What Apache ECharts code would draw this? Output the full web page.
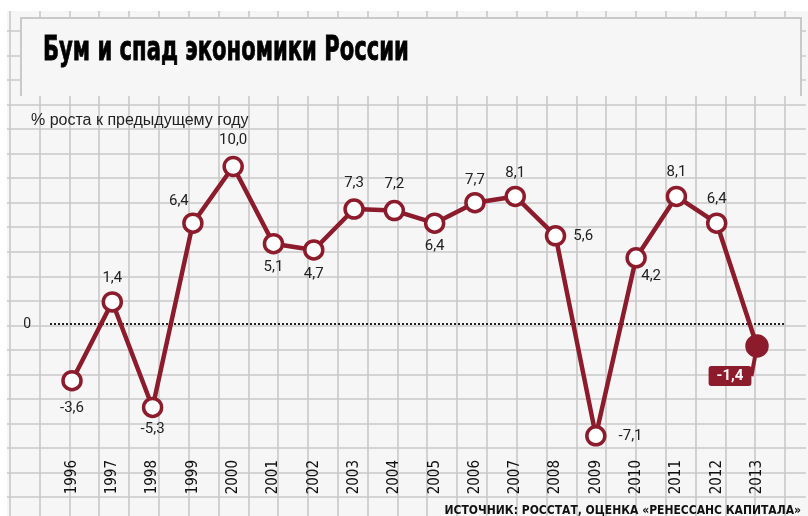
<!DOCTYPE html>
<html lang="ru">
<head>
  <meta charset="UTF-8">
  <script src="https://cdn.jsdelivr.net/npm/echarts@6/dist/echarts.min.js"></script>
  <title>Бум и спад экономики России</title>
  <style>
    html, body { margin: 0; padding: 0; background: #fff; }
    #chart { width: 808px; height: 516px; }
  </style>
</head>
<body>
  <div id="chart"></div>
  <script>
    // данные с картинки
    const years = ['1996', '1997', '1998', '1999', '2000', '2001', '2002', '2003', '2004',
                   '2005', '2006', '2007', '2008', '2009', '2010', '2011', '2012', '2013'];
    const growth = [-3.6, 1.4, -5.3, 6.4, 10.0, 5.1, 4.7, 7.3, 7.2,
                    6.4, 7.7, 8.1, 5.6, -7.1, 4.2, 8.1, 6.4, -1.4];

    const titleText = 'Бум и спад экономики России';
    const subtitleText = '% роста к предыдущему году';
    const sourceText = 'ИСТОЧНИК: РОССТАТ, ОЦЕНКА «РЕНЕССАНС КАПИТАЛА»';

    const RED = '#8c1b2c';
    const PAPER = '#f6f6f6';
    const GRIDLINE = '#c9c9c9';
    const NARROW = "'Liberation Sans Narrow', 'DejaVu Sans Condensed', sans-serif";

    // где стоит подпись у каждой точки
    const labelPlace = {
      0: { position: 'bottom', distance: 9 },
      1: { position: 'top', distance: 5 },
      2: { position: 'bottom', distance: 4 },
      3: { position: 'top', distance: 4, offset: [-14, 0] },
      4: { position: 'top', distance: 8 },
      5: { position: 'bottom', distance: 5 },
      6: { position: 'bottom', distance: 6 },
      7: { position: 'top', distance: 8 },
      8: { position: 'top', distance: 8 },
      9: { position: 'bottom', distance: 5 },
      10: { position: 'top', distance: 4 },
      11: { position: 'top', distance: 5 },
      12: { position: 'right', distance: 7 },
      13: { position: 'right', distance: 12 },
      14: { position: 'bottom', distance: 5, offset: [15, -5] },
      15: { position: 'top', distance: 6 },
      16: { position: 'top', distance: 6 }
    };

    const fmt = v => String(v.toFixed(1)).replace('.', ',');

    const seriesData = growth.map((v, i) => {
      if (i === growth.length - 1) {
        return {
          value: v,
          symbol: 'circle',
          symbolSize: 20,
          itemStyle: { color: RED, borderColor: RED },
          label: {
            show: true,
            position: 'inside',
            offset: [-27, 30],
            formatter: p => fmt(p.value),
            color: '#fff',
            fontWeight: 'bold',
            fontSize: 15,
            fontFamily: 'Roboto, sans-serif',
            backgroundColor: RED,
            padding: [3, 8, 2, 8],
            borderRadius: 3
          },
          labelLine: { show: true, length2: 0, lineStyle: { color: RED, width: 4 } }
        };
      }
      return { value: v, label: Object.assign({ show: true }, labelPlace[i]) };
    });

    const chart = echarts.init(document.getElementById('chart'), null, { renderer: 'canvas' });

    const hidden = { show: false };

    const option = {
      animation: false,
      backgroundColor: '#fff',
      title: [
        {
          text: subtitleText,
          left: 26, top: 108,
          textStyle: { fontFamily: "'Liberation Sans', Arial, sans-serif", fontWeight: 'normal', fontSize: 16, color: '#222' }
        },
        {
          text: sourceText,
          right: 2, top: 500,
          textStyle: { fontFamily: NARROW, fontWeight: 'bold', fontSize: 12, color: '#111' }
        }
      ],
      graphic: [
        { type: 'rect', z: -10, shape: { x: 7, y: 11, width: 801, height: 505 }, style: { fill: PAPER } },
        { type: 'rect', z: 1, shape: { x: 21, y: 18, width: 780, height: 78 }, style: { fill: PAPER } },
        {
          type: 'polyline', z: 1,
          shape: { points: [[21, 96], [21, 18], [801, 18], [801, 96]] },
          style: { stroke: GRIDLINE, lineWidth: 2, fill: null }
        },
        {
          // заголовок, сжатый по ширине как в оригинале
          type: 'text', z: 10,
          x: 43, y: 51, scaleX: 0.69,
          style: {
            text: titleText,
            font: "bold 34px 'DejaVu Sans Condensed', sans-serif",
            fill: '#000',
            stroke: '#000',
            lineWidth: 0.8,
            verticalAlign: 'middle'
          }
        }
      ],
      grid: [
        // клетки по вертикали
        { left: 9.7, top: 11, width: 775.3, bottom: 0 },
        // клетки по горизонтали
        { left: 7, right: 2, top: 31, height: 466 },
        // сам график
        { left: 72, right: 51, top: 135, bottom: 66 },
        // пунктир нуля
        { left: 50, right: 23, top: 135, bottom: 66 }
      ],
      xAxis: [
        {
          gridIndex: 0, type: 'value', min: 0, max: 26, interval: 1,
          axisLine: hidden, axisTick: hidden, axisLabel: hidden,
          splitLine: { show: true, lineStyle: { color: GRIDLINE, width: 1.6 } }
        },
        {
          gridIndex: 1, type: 'value', min: 0, max: 1,
          axisLine: hidden, axisTick: hidden, axisLabel: hidden, splitLine: hidden
        },
        {
          gridIndex: 2, type: 'category', data: years, boundaryGap: false,
          axisLine: hidden, axisTick: hidden,
          axisLabel: {
            rotate: 90, margin: 10, interval: 0,
            fontFamily: NARROW, fontSize: 15, color: '#111'
          }
        },
        {
          gridIndex: 3, type: 'value', min: 0, max: 1,
          axisLine: hidden, axisTick: hidden, axisLabel: hidden, splitLine: hidden
        }
      ],
      yAxis: [
        {
          gridIndex: 0, type: 'value', min: 0, max: 1,
          axisLine: hidden, axisTick: hidden, axisLabel: hidden, splitLine: hidden
        },
        {
          gridIndex: 1, type: 'value', min: 0, max: 19, interval: 1,
          axisLine: hidden, axisTick: hidden, axisLabel: hidden,
          splitLine: { show: true, lineStyle: { color: GRIDLINE, width: 1.6 } }
        },
        {
          gridIndex: 2, type: 'value', min: -8, max: 12, interval: 2,
          axisLine: hidden, axisTick: hidden, splitLine: hidden,
          axisLabel: {
            margin: 41,
            formatter: v => (v === 0 ? '0' : ''),
            fontFamily: 'Roboto, sans-serif', fontSize: 14, color: '#222'
          }
        },
        {
          gridIndex: 3, type: 'value', min: -8, max: 12,
          axisLine: hidden, axisTick: hidden, axisLabel: hidden, splitLine: hidden
        }
      ],
      series: [
        {
          type: 'line',
          xAxisIndex: 3, yAxisIndex: 3,
          data: [[0, 0], [1, 0]],
          symbol: 'none',
          silent: true,
          z: 2,
          lineStyle: { color: '#222', width: 2, type: [2, 2] }
        },
        {
          type: 'line',
          xAxisIndex: 2, yAxisIndex: 2,
          data: seriesData,
          z: 3,
          symbol: 'circle',
          symbolSize: 18,
          lineStyle: { color: RED, width: 4.5 },
          itemStyle: { color: '#fff', borderColor: RED, borderWidth: 3.5 },
          label: {
            show: true,
            formatter: p => fmt(p.value),
            fontFamily: 'Roboto, sans-serif',
            fontSize: 15,
            color: '#222'
          }
        }
      ]
    };

    chart.setOption(option);
  </script>
</body>
</html>
